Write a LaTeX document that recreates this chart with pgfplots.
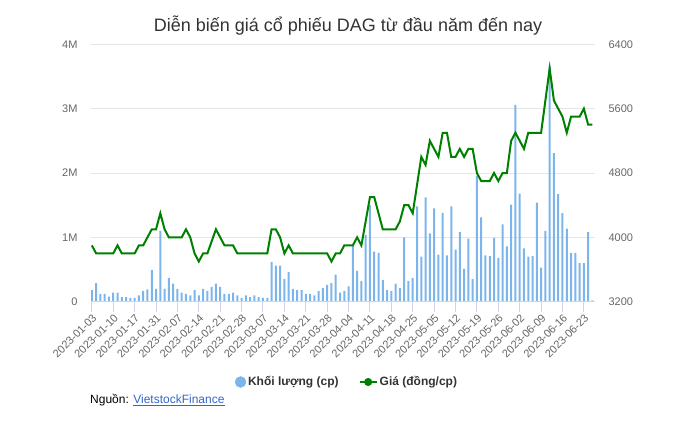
\documentclass[border=0pt]{standalone}
\usepackage{fontspec}
\setmainfont{Liberation Sans}
\usepackage{pgfplots}
\pgfplotsset{compat=1.18}
\usepackage{pgfplotstable}

\definecolor{barblue}{HTML}{7CB5EC}
\definecolor{giaxanh}{HTML}{008000}
\definecolor{chu}{HTML}{333333}
\definecolor{nhat}{HTML}{666666}
\definecolor{luoi}{HTML}{E6E6E6}
\definecolor{truc}{HTML}{CCD6EB}
\definecolor{lienket}{HTML}{3366CC}

% i = phien giao dich, vol = khoi luong (trieu cp), gia = dong/cp
\pgfplotstableread{
i vol gia
0 0.18 3900
1 0.29 3800
2 0.12 3800
3 0.12 3800
4 0.08 3800
5 0.14 3800
6 0.14 3900
7 0.07 3800
8 0.07 3800
9 0.06 3800
10 0.06 3800
11 0.10 3900
12 0.17 3900
13 0.19 4000
14 0.49 4100
15 0.20 4100
16 1.10 4300
17 0.20 4100
18 0.37 4000
19 0.28 4000
20 0.20 4000
21 0.14 4000
22 0.12 4100
23 0.10 4000
24 0.18 3800
25 0.10 3700
26 0.20 3800
27 0.17 3800
28 0.23 3950
29 0.28 4100
30 0.23 4000
31 0.12 3900
32 0.12 3900
33 0.14 3900
34 0.10 3800
35 0.06 3800
36 0.10 3800
37 0.07 3800
38 0.10 3800
39 0.07 3800
40 0.06 3800
41 0.06 3800
42 0.62 4100
43 0.56 4100
44 0.56 4000
45 0.35 3800
46 0.46 3900
47 0.20 3800
48 0.18 3800
49 0.18 3800
50 0.12 3800
51 0.12 3800
52 0.10 3800
53 0.17 3800
54 0.21 3800
55 0.26 3800
56 0.29 3700
57 0.42 3800
58 0.14 3800
59 0.17 3900
60 0.24 3900
61 0.875 3900
62 0.48 4000
63 0.32 3900
64 1.04 4200
65 1.50 4500
66 0.78 4500
67 0.76 4300
68 0.34 4100
69 0.18 4100
70 0.17 4100
71 0.28 4100
72 0.21 4200
73 1.00 4400
74 0.32 4400
75 0.37 4300
76 1.48 4650
77 0.70 5000
78 1.62 4900
79 1.06 5200
80 1.45 5100
81 0.73 5000
82 1.38 5300
83 0.72 5300
84 1.48 5000
85 0.81 5000
86 1.08 5100
87 0.51 5000
88 0.98 5100
89 0.35 5100
90 1.96 4800
91 1.31 4700
92 0.72 4700
93 0.71 4700
94 0.99 4800
95 0.68 4700
96 1.20 4800
97 0.86 4800
98 1.51 5200
99 3.06 5300
100 1.68 5200
101 0.83 5100
102 0.70 5300
103 0.71 5300
104 1.54 5300
105 0.53 5300
106 1.10 5700
107 3.66 6100
108 2.31 5700
109 1.67 5600
110 1.375 5500
111 1.135 5300
112 0.76 5500
113 0.76 5500
114 0.60 5500
115 0.60 5600
116 1.08 5400
117 0.02 5400
}\dag

\begin{document}
\begin{tikzpicture}
\useasboundingbox (0,0) rectangle (696pt,429pt);

\pgfplotsset{khung/.style={
  at={(91pt,127.3pt)}, anchor=south west,
  width=504pt, height=257.4pt, scale only axis,
  xmin=-0.2, xmax=117.6,
  axis line style={draw=none},
  tick align=outside, major tick length=10pt,
  ytick style={draw=none},
  yticklabel style={font=\fontsize{11}{13}\selectfont, text=nhat},
}}

% khoi luong
\begin{axis}[khung,
  ymin=0, ymax=4,
  ytick={0,1,2,3,4}, yticklabels={0,1M,2M,3M,4M},
  ymajorgrids, grid style={luoi, line width=1pt},
  xtick={0,5,...,115}, xtick pos=bottom,
  xticklabels={2023-01-03,2023-01-10,2023-01-17,2023-01-31,2023-02-07,2023-02-14,2023-02-21,2023-02-28,2023-03-07,2023-03-14,2023-03-21,2023-03-28,2023-04-04,2023-04-11,2023-04-18,2023-04-25,2023-05-05,2023-05-12,2023-05-19,2023-05-26,2023-06-02,2023-06-09,2023-06-16,2023-06-23},
  xtick style={draw=truc, line width=1pt},
  xticklabel style={rotate=45, anchor=north east, inner sep=1pt, font=\fontsize{11}{13}\selectfont, text=nhat},
  after end axis/.code={\draw[truc, line width=1pt] (rel axis cs:0,0) -- (rel axis cs:1,0);},
]
\addplot[ybar, bar width=2pt, bar shift=0pt, fill=barblue, draw=none] table[x=i, y=vol]{\dag};
\end{axis}

% gia
\begin{axis}[khung,
  ymin=3200, ymax=6400,
  hide x axis,
  ytick={3200,4000,4800,5600,6400}, yticklabels={3200,4000,4800,5600,6400},
  ytick pos=right, yticklabel pos=right,
  legend columns=2,
  legend style={at={(0.508,-0.312)}, anchor=center, draw=none, fill=none,
    font=\bfseries\fontsize{12}{14}\selectfont, text=chu,
    /tikz/every even column/.append style={column sep=18pt}},
]
\addplot[giaxanh, line width=2pt, mark=none, forget plot] table[x=i, y=gia]{\dag};
\addlegendimage{only marks, mark=*, mark size=5.5pt, barblue}
\addlegendentry{Khối lượng (cp)}
\addlegendimage{giaxanh, line width=2pt, mark=*, mark size=3pt}
\addlegendentry{Giá (đồng/cp)}
\end{axis}

\node[text=chu, font=\fontsize{18}{21}\selectfont] at (348pt,403pt) {Diễn biến giá cổ phiếu DAG từ đầu năm đến nay};
\node[anchor=west, inner sep=0pt, font=\fontsize{12}{14}\selectfont] at (90pt,29pt) {Nguồn: \textcolor{lienket}{\underline{VietstockFinance}}};
\end{tikzpicture}
\end{document}
